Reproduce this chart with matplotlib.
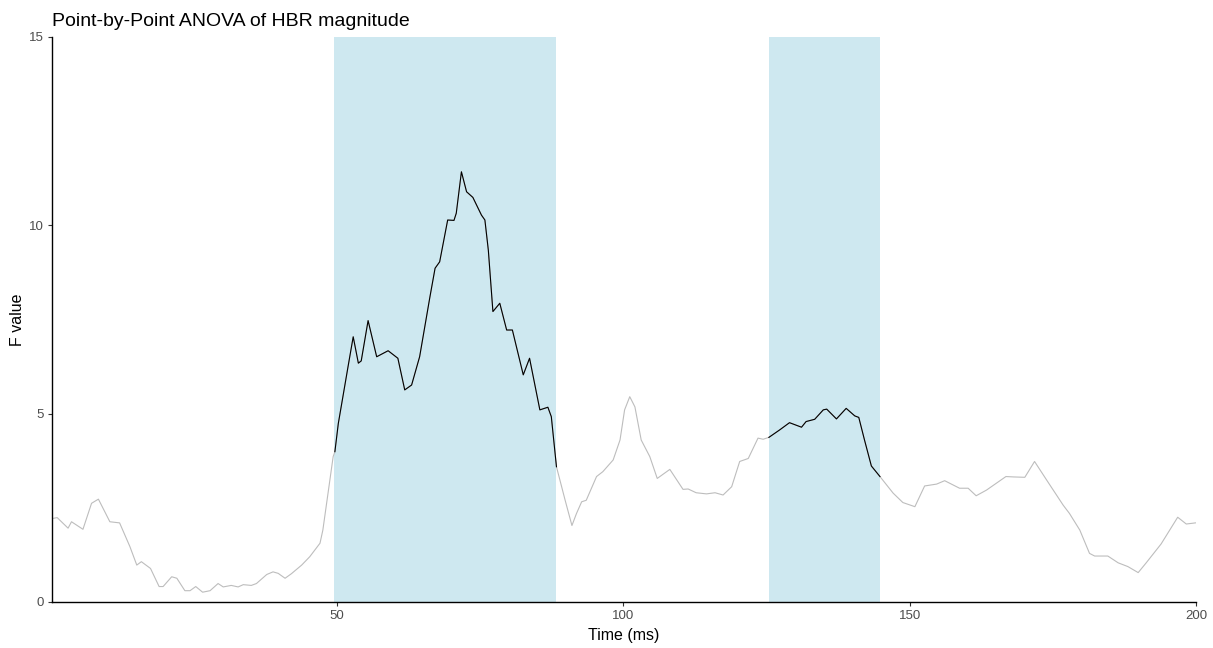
import numpy as np
import matplotlib.pyplot as plt

plt.rcParams['font.family'] = ['Liberation Sans', 'DejaVu Sans']

# F values
time_ms = [0.4, 1.1, 3.0, 3.6, 5.6, 7.1, 8.3, 10.3, 12.0, 13.8, 15.0, 15.8, 17.4,
           18.9, 19.6, 21.1, 22.0, 23.4, 24.3, 25.3, 26.5, 27.8, 29.2, 30.1, 31.5,
           32.7, 33.6, 35.0, 35.9, 37.7, 38.8, 39.7, 40.9, 42.0, 43.8, 45.2, 47.0,
           47.5, 48.4, 49.3, 49.6, 50.2, 51.0, 51.9, 52.8, 53.7, 54.2, 55.4, 56.9,
           58.9, 60.6, 61.8, 63.0, 64.4, 66.2, 67.1, 67.9, 69.3, 70.4, 70.8, 71.7,
           72.6, 73.7, 75.2, 75.8, 76.4, 77.2, 78.4, 79.6, 80.6, 81.3, 82.5, 83.6,
           85.4, 86.8, 87.4, 88.3, 89.8, 91.0, 91.8, 92.7, 93.5, 95.3, 96.4, 98.2,
           99.4, 100.2, 101.1, 102.0, 103.1, 104.6, 105.9, 108.1, 110.4, 111.3,
           112.7, 114.5, 116.0, 117.4, 118.9, 120.3, 121.8, 123.5, 124.4, 125.4,
           127.3, 129.0, 131.1, 131.9, 133.4, 134.9, 135.5, 137.2, 138.9, 140.4,
           141.1, 142.1, 143.3, 144.8, 147.1, 148.8, 150.9, 152.6, 154.7, 156.1,
           158.7, 160.2, 161.6, 163.4, 166.8, 168.1, 170.1, 171.8, 173.9, 176.8,
           177.9, 179.7, 181.4, 182.3, 184.6, 186.4, 188.1, 189.9, 191.3, 193.9,
           196.8, 198.3, 199.9]
f_value = [2.22, 2.24, 1.96, 2.13, 1.93, 2.62, 2.73, 2.13, 2.10, 1.47, 0.98, 1.07, 0.89,
           0.41, 0.41, 0.67, 0.63, 0.30, 0.30, 0.41, 0.26, 0.30, 0.49, 0.40, 0.44,
           0.40, 0.46, 0.44, 0.49, 0.73, 0.80, 0.76, 0.63, 0.75, 0.98, 1.20, 1.56,
           1.91, 2.89, 3.86, 3.99, 4.74, 5.45, 6.25, 7.04, 6.34, 6.40, 7.47, 6.51,
           6.67, 6.47, 5.63, 5.76, 6.51, 8.10, 8.86, 9.03, 10.14, 10.13, 10.32, 11.42,
           10.89, 10.74, 10.27, 10.14, 9.34, 7.71, 7.93, 7.22, 7.22, 6.78, 6.03, 6.47,
           5.10, 5.17, 4.92, 3.59, 2.71, 2.03, 2.35, 2.66, 2.70, 3.33, 3.46, 3.77,
           4.30, 5.10, 5.45, 5.18, 4.30, 3.86, 3.28, 3.52, 2.99, 3.00,
           2.90, 2.87, 2.90, 2.84, 3.06, 3.73, 3.81, 4.35, 4.32, 4.37,
           4.57, 4.76, 4.64, 4.79, 4.85, 5.10, 5.12, 4.86, 5.14, 4.94,
           4.90, 4.30, 3.61, 3.33, 2.89, 2.64, 2.53, 3.08, 3.13, 3.22,
           3.02, 3.02, 2.82, 2.97, 3.33, 3.32, 3.31, 3.73, 3.24, 2.57,
           2.35, 1.91, 1.29, 1.22, 1.22, 1.04, 0.94, 0.78, 1.04, 1.54,
           2.25, 2.07, 2.10]

# significant windows (ms)
sig_windows = [(49.5, 88.3), (125.4, 144.8)]

x = np.array(time_ms)
y = np.array(f_value)

fig = plt.figure(figsize=(12.13, 6.48), dpi=100, facecolor='white')
ax = fig.add_axes([0.0429, 0.071, 0.9431, 0.872])

for start, end in sig_windows:
    ax.axvspan(start, end, color='#CEE8F0', lw=0, zorder=0)

ax.plot(x, y, color='#BDBDBD', lw=0.8, zorder=2)
for start, end in sig_windows:
    m = (x >= start) & (x <= end)
    ax.plot(x[m], y[m], color='black', lw=0.8, zorder=3)

ax.set_xlim(0.2, 200)
ax.set_ylim(0, 15)
ax.set_xticks([50, 100, 150, 200])
ax.set_yticks([0, 5, 10, 15])
for s in ['top', 'right']:
    ax.spines[s].set_visible(False)
for s in ['left', 'bottom']:
    ax.spines[s].set_linewidth(1.0)
ax.tick_params(length=3, width=0.8, color='#333333', labelcolor='#4D4D4D',
               labelsize=9.5, pad=3)

ax.set_xlabel('Time (ms)', fontsize=11.5, labelpad=4)
ax.set_ylabel('F value', fontsize=11.5, labelpad=3)
ax.set_title('Point-by-Point ANOVA of HBR magnitude', loc='left',
             fontsize=14, pad=8)

fig.savefig('out.png', dpi=100)
